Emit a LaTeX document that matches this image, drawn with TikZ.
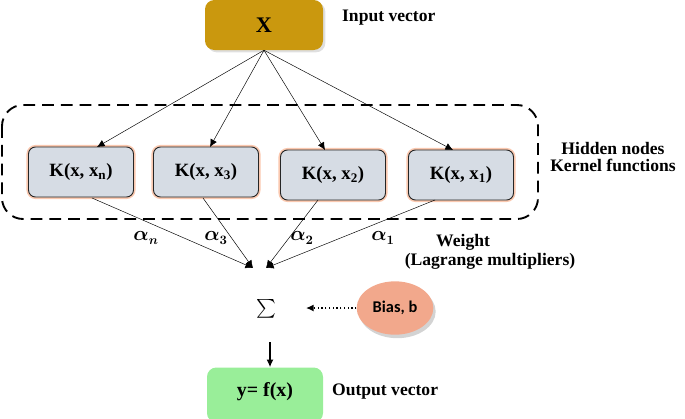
\documentclass[tikz,border=0pt]{standalone}
\usepackage{amsmath,amssymb,bm}
\usepackage{fontspec}
\setmainfont{Liberation Serif}
\newfontfamily\biasfont{Carlito}
\usetikzlibrary{shadows,shapes.geometric,arrows.meta}
\tikzset{>={Latex[length=6.5pt,width=6pt]}}

\definecolor{inputgold}{RGB}{202,152,14}
\definecolor{kernelgray}{RGB}{214,220,228}
\definecolor{kernelglow}{RGB}{250,200,175}
\definecolor{biasred}{RGB}{242,168,140}
\definecolor{outgreen}{RGB}{153,238,153}

\tikzset{
  kbox/.style={draw=black!85,thick,rounded corners=6pt,fill=kernelgray,
    minimum width=3.15cm,minimum height=1.5cm,
    preaction={draw=kernelglow,line width=3.5pt},
    font=\fontsize{16}{18}\selectfont\bfseries},
  capt/.style={font=\fontsize{15}{18}\selectfont\bfseries,align=center},
  wlabel/.style={font=\fontsize{16}{18}\selectfont\boldmath},
}

\begin{document}
\begin{tikzpicture}[x=0.03cm,y=-0.03cm]
  \useasboundingbox (0,0) rectangle (685,418);

  % input
  \node[fill=inputgold,rounded corners=8pt,minimum width=3.54cm,minimum height=1.5cm,
    drop shadow={opacity=0.25,shadow xshift=2pt,shadow yshift=-2pt},
    font=\fontsize{19}{21}\selectfont\bfseries] (xin) at (264,25) {\raisebox{-7pt}{X}};
  \node[capt,anchor=west] (incap) at (338,18) {Input vector};

  % hidden layer
  \draw[line width=1.6pt,dash pattern=on 10pt off 6pt,rounded corners=18pt]
    (2,105) rectangle (538,219);
  \node[kbox] (kn) at (81,172) {K(x, x\textsubscript{n})};
  \node[kbox] (k3) at (206,172) {K(x, x\textsubscript{3})};
  \node[kbox] (k2) at (333,175) {K(x, x\textsubscript{2})};
  \node[kbox] (k1) at (461,175) {K(x, x\textsubscript{1})};
  \node[capt] (hidcap) at (613,157) {Hidden nodes\\[-3pt]Kernel functions};

  \draw[->] (xin.south) -- (97,147);
  \draw[->] (xin.south) -- (210,147);
  \draw[->] (xin.south) -- (325,150);
  \draw[->] (xin.south) -- (453,150);

  % weights
  \coordinate (sl) at (253,268);
  \coordinate (sr) at (266,268);
  \draw[->] (92,198) -- (sl);
  \draw[->] (203,198) -- (sl);
  \draw[->] (318,200) -- (sr);
  \draw[->] (435,200) -- (sr);
  \node[wlabel] (an) at (146,238) {$\alpha_n$};
  \node[wlabel] (a3) at (216,238) {$\alpha_3$};
  \node[wlabel] (a2) at (302,238) {$\alpha_2$};
  \node[wlabel] (a1) at (383,238) {$\alpha_1$};
  \node[capt] (wcap) at (490,252) {\hspace*{-46pt}Weight\\[-2pt](Lagrange multipliers)};

  % sum and bias
  \node[font=\fontsize{16}{18}\selectfont] (sum) at (266,309) {$\sum$};
  \node[ellipse,draw=none,minimum width=2.3cm,minimum height=1.6cm,inner sep=0pt,
    fill=biasred,drop shadow={opacity=0.35,shadow xshift=2pt,shadow yshift=-3pt},
    font=\biasfont\fontsize{14}{16}\selectfont\bfseries] (bias) at (395,308) {Bias, b};
  \draw[->,very thick,dotted] (bias.west) -- (306,308);

  % output
  \node[fill=outgreen,rounded corners=8pt,minimum width=3.48cm,minimum height=1.65cm,
    font=\fontsize{17}{19}\selectfont\bfseries] (yout) at (265,395) {\raisebox{9pt}{y= f(x)}};
  \draw[->,line width=1.4pt] (270,342) -- (yout.north -| 270,342);
  \node[capt,anchor=west] (outcap) at (328,392) {Output vector};
\end{tikzpicture}
\end{document}
